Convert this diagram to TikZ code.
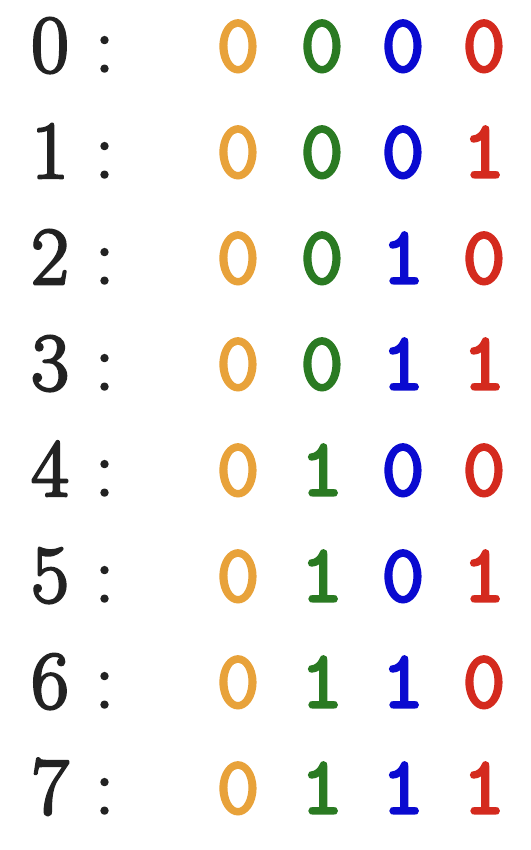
\documentclass[tikz,border=0pt]{standalone}
\usepackage{fontspec}
\newfontfamily\darkmono{lmmonolt10-bold}[Extension=.otf]
\newcommand\heavy[2]{\special{pdf:literal direct #1 w 1 j 2 Tr}#2\special{pdf:literal direct 0 Tr}}
\definecolor{bitorange}{HTML}{E8A23A}
\definecolor{bitgreen}{HTML}{2A7A22}
\definecolor{bitblue}{HTML}{0A0AD0}
\definecolor{bitred}{HTML}{D42A1E}
\definecolor{numgray}{HTML}{222222}
\begin{document}
\begin{tikzpicture}[x=1pt,y=1pt,
  lbl/.style={inner sep=0pt, anchor=base, text=numgray, font={\fontsize{82}{90}\selectfont}},
  bit/.style={inner sep=0pt, anchor=base, font={\darkmono\fontsize{84}{90}\selectfont}}]
\useasboundingbox (0,0) rectangle (530,850);
\foreach \a/\b/\c/\d [count=\k from 0] in {0/0/0/0,0/0/0/1,0/0/1/0,0/0/1/1,0/1/0/0,0/1/0/1,0/1/1/0,0/1/1/1} {
  \pgfmathsetmacro\yy{850-72-106*\k}
  \node[lbl] (n\k) at (50,\yy) {\heavy{2.6}{\k}};
  \node[lbl] (col\k) at (104.5,\yy) {\heavy{1.6}{:}};
  \node[bit, text=bitorange] (o\k) at (238,\yy) {\heavy{1.2}{\a}};
  \node[bit, text=bitgreen] (g\k) at (322,\yy) {\heavy{1.2}{\b}};
  \node[bit, text=bitblue] (b\k) at (403,\yy) {\heavy{1.2}{\c}};
  \node[bit, text=bitred] (r\k) at (484,\yy) {\heavy{1.2}{\d}};
}
\end{tikzpicture}
\end{document}
